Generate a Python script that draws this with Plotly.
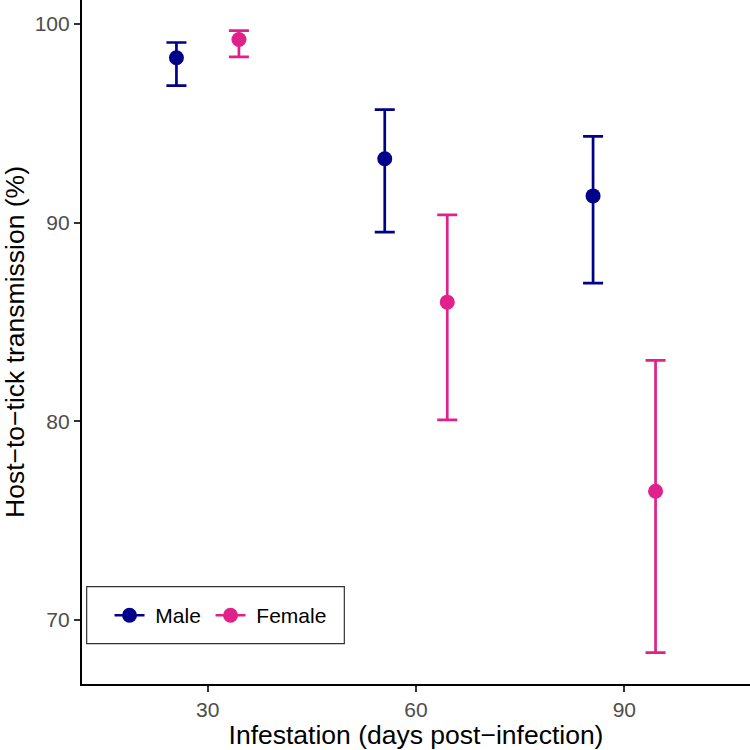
import plotly.graph_objects as go

days = [30, 60, 90]
male_mean = [98.29, 93.21, 91.34]
male_upper = [99.06, 95.68, 94.34]
male_lower = [96.89, 89.52, 86.95]
female_mean = [99.21, 85.99, 76.47]
female_upper = [99.66, 90.38, 83.06]
female_lower = [98.34, 80.07, 68.35]

dodge = 4.5
male_color = "#00008B"
female_color = "#E0218C"

fig = go.Figure()

def add_series(name, offset, mean, upper, lower, color, legend):
    xs = [d + offset for d in days]
    fig.add_trace(go.Scatter(
        x=xs, y=mean, mode="markers", name=name, showlegend=False,
        marker=dict(color=color, size=15),
        error_y=dict(type="data", symmetric=False,
                     array=[u - m for u, m in zip(upper, mean)],
                     arrayminus=[m - l for m, l in zip(mean, lower)],
                     color=color, thickness=2.7, width=10),
    ))
    fig.add_trace(go.Scatter(
        x=[None], y=[None], mode="lines+markers", name="\u00a0" + name, legend=legend,
        marker=dict(color=color, size=15), line=dict(color=color, width=2.7),
    ))

add_series("Male", -dodge, male_mean, male_upper, male_lower, male_color, "legend")
add_series("Female", dodge, female_mean, female_upper, female_lower, female_color, "legend2")

# legend frame
fig.add_shape(type="rect", xref="paper", yref="paper",
              x0=0.007, x1=0.3927, y0=0.0589, y1=0.1423,
              line=dict(color="#333333", width=1.2), fillcolor="white", layer="below")

leg_common = dict(orientation="h", xanchor="left", yanchor="middle", y=0.1,
                  borderwidth=0, bgcolor="rgba(0,0,0,0)",
                  font=dict(size=21, color="black"), itemwidth=30)

fig.update_layout(
    width=750, height=750,
    margin=dict(l=82, r=0, t=0, b=66),
    plot_bgcolor="white", paper_bgcolor="white",
    font=dict(family="Liberation Sans, Arial, sans-serif", color="black"),
    legend=dict(x=0.0412, **leg_common),
    legend2=dict(x=0.1924, **leg_common),
    xaxis=dict(range=[11.9, 108.1], tickvals=days, ticktext=[str(d) for d in days],
               showgrid=False, zeroline=False, showline=True, linecolor="black", linewidth=2.2,
               ticks="outside", ticklen=6, tickwidth=2.2, tickcolor="#333333",
               tickfont=dict(size=21, color="#4D4D4D"),
               title=dict(text="Infestation (days post−infection)", font=dict(size=26.5, color="black"), standoff=6)),
    yaxis=dict(range=[66.77, 101.2], tickvals=[70, 80, 90, 100],
               showgrid=False, zeroline=False, showline=True, linecolor="black", linewidth=2.2,
               ticks="outside", ticklen=6, tickwidth=2.2, tickcolor="#333333",
               tickfont=dict(size=21, color="#4D4D4D"),
               title=dict(text="Host−to−tick transmission (%)", font=dict(size=26.5, color="black"), standoff=6)),
)

fig.write_html("out.html")
